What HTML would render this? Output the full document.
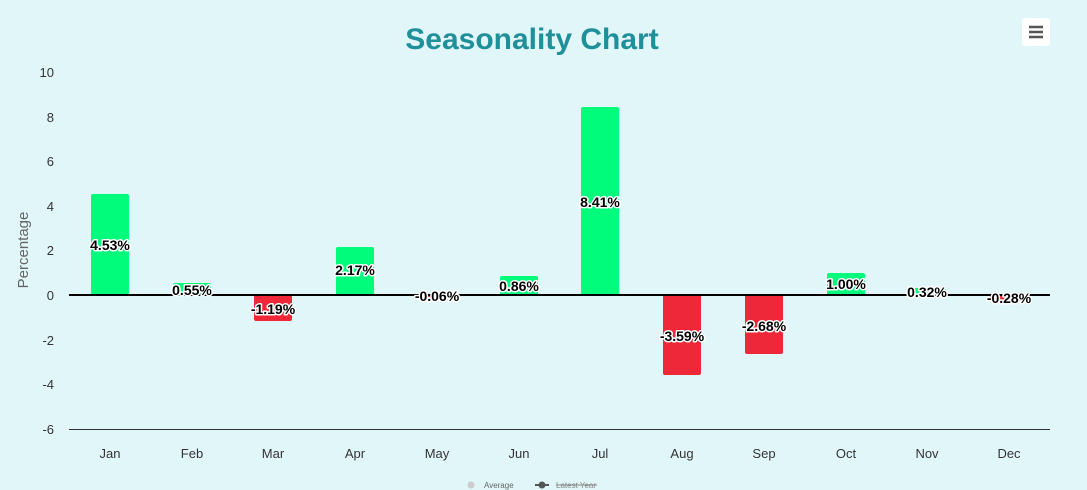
<!DOCTYPE html><html><head><style>body{margin:0;background:#e1f6f9;}svg{display:block}text{font-family:"Liberation Sans",Arial,sans-serif}</style></head><body>
<svg width="1087" height="490" viewBox="0 0 1087 490">
<rect width="1087" height="490" fill="#e1f6f9"/>
<text x="532" y="49" text-anchor="middle" font-size="30" font-weight="bold" fill="#1f8f9a">Seasonality Chart</text>
<rect x="1022" y="18" width="28" height="28" rx="3" fill="#fff"/>
<g stroke="#555" stroke-width="2.5"><line x1="1029" y1="27" x2="1043" y2="27"/><line x1="1029" y1="32" x2="1043" y2="32"/><line x1="1029" y1="37" x2="1043" y2="37"/></g>
<g font-size="13" fill="#333" text-anchor="end">
<text x="54" y="77">10</text><text x="54" y="122">8</text><text x="54" y="166">6</text><text x="54" y="211">4</text><text x="54" y="255">2</text><text x="54" y="300">0</text><text x="54" y="345">-2</text><text x="54" y="389">-4</text><text x="54" y="434">-6</text></g>
<text transform="translate(28,250) rotate(-90)" text-anchor="middle" font-size="15" fill="#666">Percentage</text>
<line x1="69" y1="429.5" x2="1050" y2="429.5" stroke="#333" stroke-width="1"/>
<g fill="#00fc7a">
<rect x="91" y="194" width="38" height="101" rx="2"/><rect x="173" y="283" width="38" height="12" rx="2"/><rect x="336" y="247" width="38" height="48" rx="2"/><rect x="500" y="276" width="38" height="19" rx="2"/><rect x="581" y="107" width="38" height="188" rx="2"/><rect x="827" y="273" width="38" height="22" rx="2"/><rect x="908" y="288" width="38" height="7" rx="2"/></g>
<g fill="#ee2838">
<rect x="254" y="295" width="38" height="26" rx="2"/><rect x="418" y="295" width="38" height="2"/><rect x="663" y="295" width="38" height="80" rx="2"/><rect x="745" y="295" width="38" height="59" rx="2"/><rect x="990" y="295" width="38" height="6" rx="2"/></g>
<line x1="69" y1="295" x2="1050" y2="295" stroke="#000" stroke-width="2"/>
<g font-size="14" font-weight="bold" fill="#000" stroke="#fff" stroke-width="3" stroke-linejoin="round" paint-order="stroke" text-anchor="middle">
<text x="110" y="250">4.53%</text><text x="192" y="295">0.55%</text><text x="273" y="314">-1.19%</text><text x="355" y="275">2.17%</text><text x="437" y="301">-0.06%</text><text x="519" y="291">0.86%</text><text x="600" y="207">8.41%</text><text x="682" y="341">-3.59%</text><text x="764" y="331">-2.68%</text><text x="846" y="289">1.00%</text><text x="927" y="297">0.32%</text><text x="1009" y="303">-0.28%</text></g>
<g font-size="13" fill="#333" text-anchor="middle">
<text x="110" y="458">Jan</text><text x="192" y="458">Feb</text><text x="273" y="458">Mar</text><text x="355" y="458">Apr</text><text x="437" y="458">May</text><text x="519" y="458">Jun</text><text x="600" y="458">Jul</text><text x="682" y="458">Aug</text><text x="764" y="458">Sep</text><text x="846" y="458">Oct</text><text x="927" y="458">Nov</text><text x="1009" y="458">Dec</text></g>
<circle cx="471" cy="485" r="3.5" fill="#ccc"/>
<text x="484" y="488" font-size="8" fill="#666">Average</text>
<line x1="535" y1="485" x2="549" y2="485" stroke="#555" stroke-width="2"/><circle cx="542" cy="485" r="3.5" fill="#555"/>
<text x="556" y="488" font-size="8" fill="#888">Latest Year</text>
<line x1="556" y1="485" x2="597" y2="485" stroke="#888" stroke-width="1"/>
</svg></body></html>
